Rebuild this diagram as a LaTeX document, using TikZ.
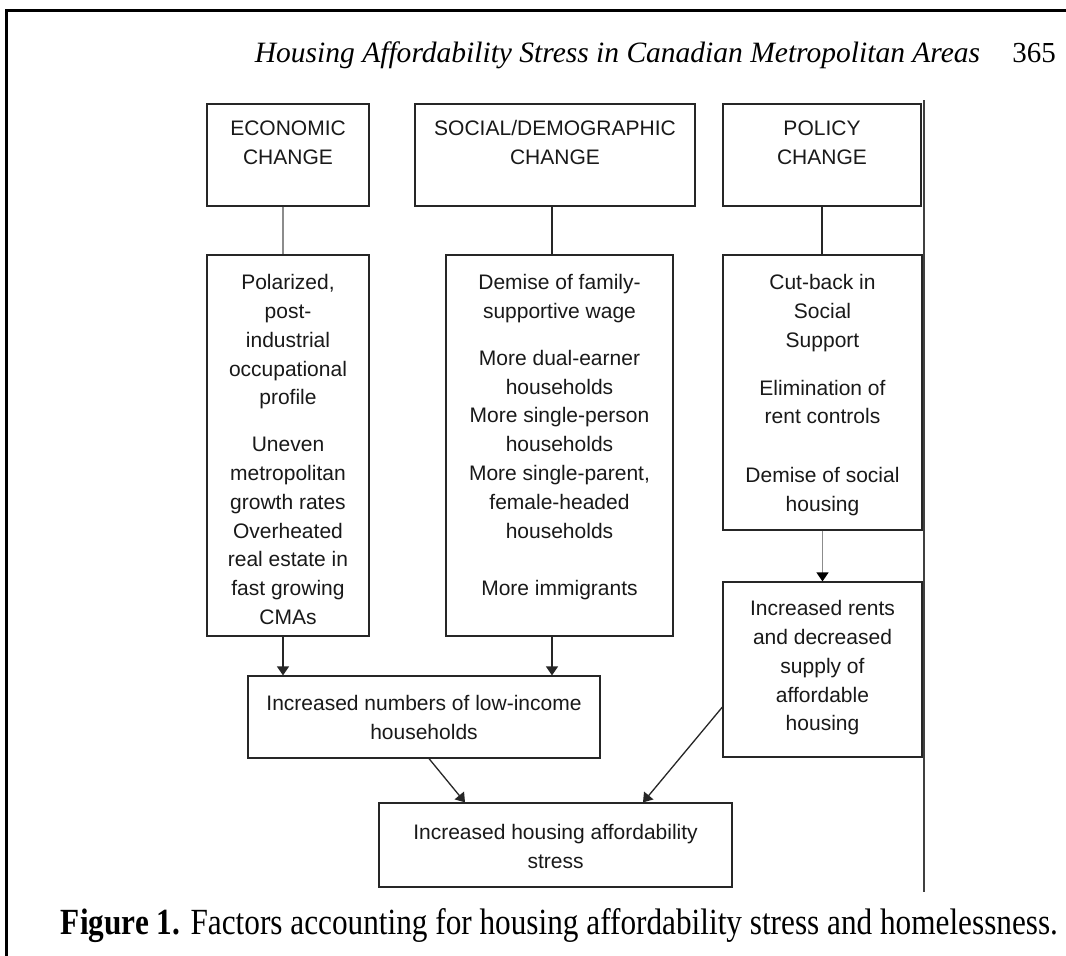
\documentclass[tikz,border=0pt]{standalone}
\usepackage{fontspec}
\setmainfont{Liberation Serif}
\setsansfont{Liberation Sans}
\usetikzlibrary{arrows.meta,calc}
\begin{document}
\begin{tikzpicture}[x=1pt,y=-1pt,
  box/.style={draw=black!85,line width=1.2pt,inner sep=0pt},
  txt/.style={font=\sffamily\fontsize{21}{28.8}\selectfont,align=center,inner sep=0pt,anchor=north,text=black!90},
  conn/.style={line width=1.3pt,draw=black!85},
  lightconn/.style={line width=1.3pt,draw=black!45},
  arr/.style={line width=1.3pt,draw=black!85,-{Triangle[width=12pt,length=9pt]}},
  lightarr/.style={line width=1.3pt,draw=black!45,-{Triangle[width=12pt,length=9pt,fill=black,color=black]}}
]
\useasboundingbox (0,0) rectangle (1066,956);
\fill[white] (0,0) rectangle (1066,956);
% frame
\draw[line width=3pt] (6,956) -- (6,10) -- (1066,10);
% header
\node[anchor=base,inner sep=0pt] (header) at (617.5,62) {\resizebox{725pt}{!}{\itshape Housing Affordability Stress in Canadian Metropolitan Areas}};
\node[anchor=base,inner sep=0pt,font=\fontsize{29}{30}\selectfont] (pagenum) at (1034,62) {365};
% right rule
\coordinate (vtop) at (924,100);
\coordinate (vbot) at (924,892);
\draw[line width=1.2pt,black!75] (vtop) -- (vbot);
\coordinate (marktop) at (922,465);
\coordinate (markbot) at (922,482);
\draw[line width=2pt] (marktop) -- (markbot);
% top boxes
\node[box,minimum width=162pt,minimum height=102pt] (econ) at (288,155) {};
\node[txt] (econT) at (288,115.5) {\rule{0pt}{20pt}ECONOMIC\\CHANGE};
\node[box,minimum width=280pt,minimum height=102pt] (soc) at (555,155) {};
\node[txt] (socT) at (555,115.5) {\rule{0pt}{20pt}SOCIAL/DEMOGRAPHIC\\CHANGE};
\node[box,minimum width=198pt,minimum height=102pt] (pol) at (822,155) {};
\node[txt] (polT) at (822,115.5) {\rule{0pt}{20pt}POLICY\\CHANGE};
% sub boxes
\node[box,minimum width=162pt,minimum height=381pt] (econS) at (288,445.5) {};
\node[txt] (econST) at (288,269.5) {\rule{0pt}{20pt}Polarized,\\post-\\industrial\\occupational\\profile\\[18pt]Uneven\\metropolitan\\growth rates\\Overheated\\real estate in\\fast growing\\CMAs};
\node[box,minimum width=227pt,minimum height=381pt] (socS) at (559.5,445.5) {};
\node[txt] (socST) at (559.5,269.5) {\rule{0pt}{20pt}Demise of family-\\supportive wage\\[18pt]More dual-earner\\households\\More single-person\\households\\More single-parent,\\female-headed\\households\\[29pt]More immigrants};
\node[box,minimum width=199pt,minimum height=275pt] (polS) at (822.5,392.5) {};
\node[txt] (polST) at (822.5,269.5) {\rule{0pt}{20pt}Cut-back in\\Social\\Support\\[19pt]Elimination of\\rent controls\\[30pt]Demise of social\\housing};
% rents box
\node[box,minimum width=199pt,minimum height=175pt] (rents) at (822.5,669.5) {};
\node[txt] (rentsT) at (822.5,595.5) {\rule{0pt}{20pt}Increased rents\\and decreased\\supply of\\affordable\\housing};
% low-income box
\node[box,minimum width=352pt,minimum height=82pt] (low) at (424,717) {};
\node[txt] (lowT) at (424,690.5) {\rule{0pt}{20pt}Increased numbers of low-income\\households};
% stress box
\node[box,minimum width=353pt,minimum height=84pt] (stress) at (555.5,845) {};
\node[txt] (stressT) at (555.5,819.5) {\rule{0pt}{20pt}Increased housing affordability\\stress};
% connectors
\draw[lightconn] ([xshift=-5pt]econ.south) -- ([xshift=-5pt]econ.south |- econS.north);
\draw[conn] ([xshift=-3pt]soc.south) -- ([xshift=-3pt]soc.south |- socS.north);
\draw[conn] (pol.south) -- (pol.south |- polS.north);
\draw[lightarr] (polS.south) -- (rents.north);
\draw[arr] ([xshift=-5pt]econS.south) -- ([xshift=-5pt]econS.south |- low.north);
\draw[arr] ([xshift=-7.5pt]socS.south) -- ([xshift=-7.5pt]socS.south |- low.north);
\draw[arr] ([xshift=5pt]low.south) -- ([xshift=-90.5pt]stress.north);
\draw[arr] ([yshift=-37.5pt]rents.west) -- ([xshift=87.5pt]stress.north);
% caption
\node[anchor=base,inner sep=0pt] (caption) at (559.5,934) {\scalebox{1}[1.18]{\resizebox{997pt}{!}{\textbf{Figure 1.} Factors accounting for housing affordability stress and homelessness.}}};
\end{tikzpicture}
\end{document}
